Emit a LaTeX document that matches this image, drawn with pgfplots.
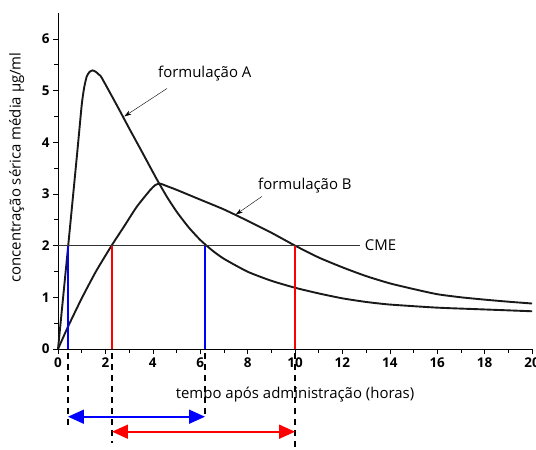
\documentclass[border=0pt]{standalone}
\usepackage{fontspec}
\setmainfont{Open Sans}
\usepackage{pgfplots}
\pgfplotsset{compat=1.18}
\usetikzlibrary{arrows.meta}
\newcommand{\lblfont}{\fontsize{15}{17}\selectfont}
\begin{document}
\begin{tikzpicture}
\begin{axis}[
  scale only axis, width=474bp, height=336bp,
  xmin=0, xmax=20, ymin=0, ymax=6.5,
  axis lines*=left,
  xtick={0,2,...,20}, ytick={0,1,...,6},
  minor x tick num=1, minor y tick num=1,
  tick align=outside, major tick length=5bp, minor tick length=4bp,
  tick style={black, line width=0.6pt},
  axis line style={black, line width=0.6pt},
  ticklabel style={font=\fontsize{13.5}{15}\selectfont\bfseries},
  /pgf/number format/assume math mode=true,
  xlabel={tempo após administração (horas)},
  ylabel={concentração sérica média µg/ml},
  every axis x label/.style={at={(axis description cs:0.5,-0.137)}, anchor=center, font=\lblfont},
  every axis y label/.style={at={(axis description cs:-0.087,0.54)}, rotate=90, anchor=center, font=\lblfont},
  clip=false,
]
% formulação A
\addplot[smooth, tension=0.35, line width=1.9pt, black!90] coordinates {
  (0,0) (0.43,2.0) (0.8,3.75) (1.0,4.72) (1.1,5.05) (1.21,5.27) (1.33,5.36) (1.46,5.39)
  (1.6,5.36) (1.72,5.31) (1.84,5.25) (2.5,4.70) (3.0,4.27) (3.5,3.85) (4.16,3.29)
  (4.6,2.94) (5.0,2.66) (5.5,2.36) (6.0,2.11) (6.5,1.91) (7,1.745) (8,1.495)
  (9,1.32) (10,1.185) (11,1.075) (12,0.98) (13,0.91) (14,0.86) (16,0.80)
  (18,0.765) (20,0.73)
};
% formulação B
\addplot[smooth, tension=0.35, line width=1.9pt, black!90] coordinates {
  (0,0) (0.43,0.44) (1,0.98) (1.6,1.5) (2.26,2.0) (2.8,2.38) (3.32,2.75) (3.88,3.07)
  (4.1,3.17) (4.3,3.2) (4.6,3.15) (5,3.08) (6,2.89) (7,2.70) (8,2.48) (9,2.25)
  (10,2.0) (11,1.77) (12,1.58) (13,1.41) (14,1.27) (15,1.16) (16,1.06) (17,1.0)
  (18,0.955) (19,0.915) (20,0.88)
};
% CME
\addplot[black!80, line width=0.5pt] coordinates {(0,2) (12.74,2)};
\node[anchor=west, font=\lblfont, inner sep=1pt] at (axis cs:12.9,2.0) {CME};
% verticals
\addplot[blue, line width=2.2pt] coordinates {(0.42,0) (0.42,2)};
\addplot[blue, line width=2.2pt] coordinates {(6.2,0) (6.2,2)};
\addplot[red, line width=2.2pt] coordinates {(2.28,0) (2.28,2)};
\addplot[red, line width=2.2pt] coordinates {(10,0) (10,2)};
% annotations
\node[anchor=west, font=\lblfont, inner sep=0pt] at (axis cs:4.22,5.33) {formulação A};
\draw[-{Stealth[length=7pt,width=4.5pt]}, line width=0.4pt] (axis cs:4.6,5.04) -- (axis cs:2.8,4.5);
\node[anchor=west, font=\lblfont, inner sep=0pt] at (axis cs:8.44,3.17) {formulação B};
\draw[-{Stealth[length=7pt,width=4.5pt]}, line width=0.4pt] (axis cs:8.6,2.95) -- (axis cs:7.5,2.6);
% dashed guides
\draw[dash pattern=on 6pt off 5pt, line width=1.4pt] (axis cs:0.42,-0.08) -- (axis cs:0.42,-1.52);
\draw[dash pattern=on 6pt off 5pt, line width=1.4pt] (axis cs:2.28,-0.08) -- (axis cs:2.28,-1.82);
\draw[dash pattern=on 6pt off 5pt, line width=1.4pt] (axis cs:6.2,-0.08) -- (axis cs:6.2,-1.3);
\draw[dash pattern=on 6pt off 5pt, line width=1.4pt] (axis cs:10,-0.08) -- (axis cs:10,-1.89);
% double arrows
\draw[{Triangle[length=16pt,width=14pt]}-{Triangle[length=16pt,width=14pt]}, blue, line width=1.8pt] (axis cs:0.42,-1.31) -- (axis cs:6.2,-1.31);
\draw[{Triangle[length=16pt,width=14pt]}-{Triangle[length=16pt,width=14pt]}, red, line width=1.8pt] (axis cs:2.28,-1.6) -- (axis cs:10,-1.6);
\coordinate (bl) at (rel axis cs:-0.1224,-0.3006);
\coordinate (tr) at (rel axis cs:1.0084,1.0387);
\end{axis}
\pgfresetboundingbox
\path[use as bounding box] (bl) rectangle (tr);
\end{tikzpicture}
\end{document}
